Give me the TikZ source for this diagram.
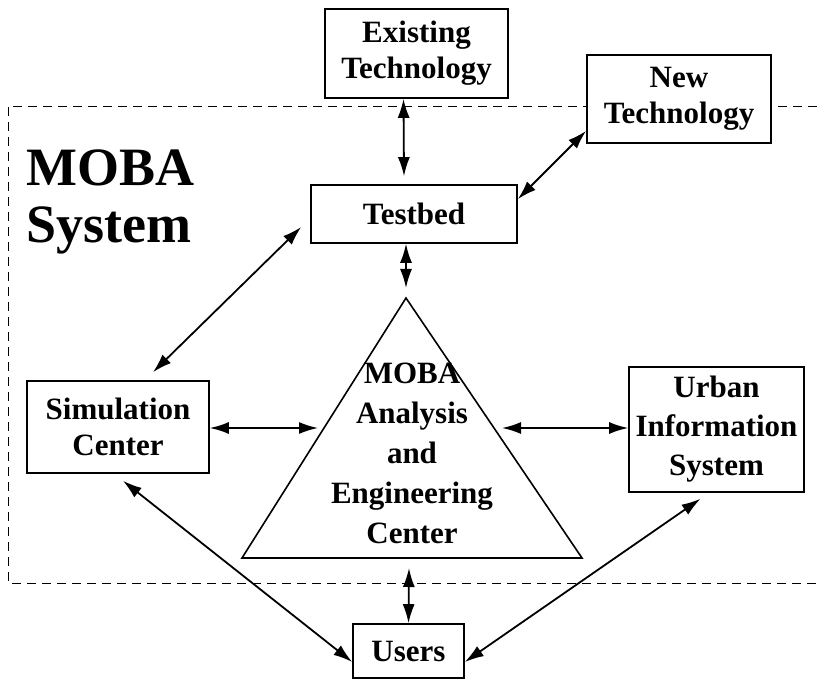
\documentclass[tikz,border=0pt]{standalone}
\usepackage{fontspec}
\setmainfont{Liberation Serif}
\usetikzlibrary{arrows.meta,calc}
\tikzset{
    box/.style={draw, line width=1.6pt, fill=white, inner sep=0pt, align=center,
        font=\fontsize{31}{36}\selectfont\bfseries},
    link/.style={line width=1.8pt, {Latex[length=19pt,width=12pt]}-{Latex[length=19pt,width=12pt]}},
    sysline/.style={line width=0.8pt, dash pattern=on 9pt off 6pt}
}

\begin{document}
\begin{tikzpicture}[x=1pt,y=-1pt]
    \useasboundingbox (0,0) rectangle (817,679);
    % system border
    \draw[sysline] (817,106) -- (8,106) -- (8,583) -- (817,583);
    \node[anchor=north west, align=left, inner sep=0pt,
        font=\fontsize{54}{57}\selectfont\bfseries] (title) at (26,150) {MOBA\\System};
    % boxes
    \node[box, minimum width=183pt, minimum height=89pt] (exist) at (416.5,53.5) {Existing\\Technology};
    \node[box, minimum width=184pt, minimum height=88pt] (newtech) at (679,99) {New\\Technology};
    \node[box, minimum width=206pt, minimum height=58pt] (testbed) at (414,214) {Testbed};
    \node[box, minimum width=182pt, minimum height=92pt] (sim) at (118,427) {Simulation\\Center};
    \node[box, minimum width=175pt, minimum height=125pt, font=\fontsize{31}{39}\selectfont\bfseries] (urban) at (716.5,429.5) {Urban\\Information\\System};
    \node[box, minimum width=111pt, minimum height=54pt] (users) at (408.5,651) {Users};
    % center triangle
    \coordinate (apex) at (406,298);
    \coordinate (bl) at (242,558);
    \coordinate (br) at (582,558);
    \draw[line width=1.6pt, fill=white] (apex) -- (bl) -- (br) -- cycle;
    \node[align=center, inner sep=0pt, font=\fontsize{31}{40}\selectfont\bfseries] (aec) at (412,453)
        {MOBA\\Analysis\\and\\Engineering\\Center};
    \coordinate (lside) at ($(apex)!0.5!(bl)$);
    \coordinate (rside) at ($(apex)!0.5!(br)$);
    \coordinate (base) at ($(bl)!0.5!(br)+(-3,10)$);
    % links
    \draw[link] ([xshift=-13pt]exist.south) -- ([xshift=-10pt,yshift=8pt]testbed.north);
    \draw[link] ([yshift=-15pt]testbed.north east) -- ([yshift=13pt]newtech.south west);
    \draw[link] ([shift={(-9pt,-13pt)}]testbed.west) -- ([shift={(35pt,8pt)}]sim.north);
    \draw[link] (apex |- testbed.south) -- ([yshift=10pt]apex);
    \draw[link] (sim.east |- lside) -- ([xshift=-6pt]lside);
    \draw[link] ([xshift=8pt]rside) -- (urban.west |- rside);
    \draw[link] (base) -- (users.north);
    \draw[link] ([shift={(5pt,-7pt)}]sim.south) -- ([yshift=-11pt]users.west);
    \draw[link] ([shift={(-16pt,-6pt)}]urban.south) -- ([yshift=-11pt]users.east);
\end{tikzpicture}
\end{document}
